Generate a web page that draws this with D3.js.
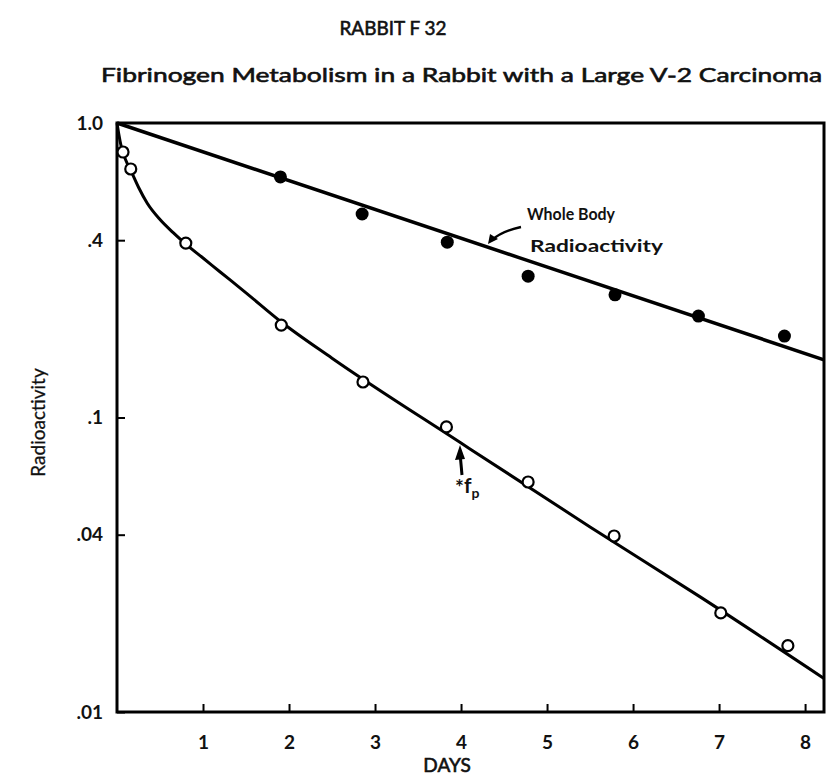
<!DOCTYPE html>
<html>
<head>
<meta charset="utf-8">
<script src="https://cdn.jsdelivr.net/npm/d3@7"></script>
<style>
  body { margin: 0; background: #fff; }
  text { font-family: "Lato", "DejaVu Sans", sans-serif; fill: #111; }
</style>
</head>
<body>
<div id="chart"></div>
<script>
// data
var wholeDays = [1.90, 2.85, 3.84, 4.78, 5.79, 6.76, 7.76];
var wholeValues = [0.656, 0.491, 0.394, 0.302, 0.261, 0.221, 0.189];
var plasmaDays = [0.07, 0.16, 0.80, 1.91, 2.86, 3.83, 4.78, 5.78, 7.02, 7.80];
var plasmaValues = [0.797, 0.698, 0.391, 0.206, 0.132, 0.0929, 0.0604, 0.0396, 0.0217, 0.0168];
// fitted lines as drawn
var wholeLineDays = [0, 8.22];
var wholeLineValues = [1.0, 0.157];
var plasmaCurveDays = [0, 0.02, 0.05, 0.10, 0.16, 0.25, 0.35, 0.50, 0.65, 0.80, 1.00, 1.20, 1.50, 1.91, 2.50, 4.00, 5.50, 6.78, 8.22];
var plasmaCurveValues = [1.0, 0.92, 0.83, 0.75, 0.69, 0.605, 0.535, 0.47, 0.425, 0.388, 0.348, 0.312, 0.265, 0.211, 0.159, 0.0819, 0.0425, 0.0246, 0.0130];
var xTicks = [1, 2, 3, 4, 5, 6, 7, 8];
var yTicks = [1.0, 0.4, 0.1, 0.04, 0.01];
var yTickLabels = ["1.0", ".4", ".1", ".04", ".01"];

var margin = { top: 123, right: 3, bottom: 65, left: 117 },
    width = 827 - margin.left - margin.right,
    height = 777 - margin.top - margin.bottom;

var svg = d3.select("#chart")
    .append("svg")
    .attr("width", 827)
    .attr("height", 777)
    .append("g")
    .attr("transform", "translate(" + margin.left + "," + margin.top + ")");

var x = d3.scaleLinear().domain([0, 8.22]).range([0, width]);
var y = d3.scaleLog().domain([0.01, 1]).range([height, 0]);

// titles (medium weight look: regular + thin stroke)
svg.append("text")
    .attr("x", 276).attr("y", -88)
    .attr("text-anchor", "middle")
    .attr("textLength", 107)
    .attr("lengthAdjust", "spacingAndGlyphs")
    .attr("stroke", "#111").attr("stroke-width", 0.6)
    .style("font-size", "20px")
    .text("RABBIT  F 32");
svg.append("text")
    .attr("x", -16).attr("y", -41)
    .attr("textLength", 721)
    .attr("lengthAdjust", "spacingAndGlyphs")
    .attr("stroke", "#111").attr("stroke-width", 0.6)
    .style("font-size", "20px")
    .text("Fibrinogen  Metabolism  in a  Rabbit  with  a  Large  V-2  Carcinoma");

// frame
svg.append("rect")
    .attr("x", 0).attr("y", 0)
    .attr("width", width).attr("height", height)
    .attr("fill", "none")
    .attr("stroke", "#000")
    .attr("stroke-width", 3);

// x axis
var xAxis = svg.append("g")
    .attr("transform", "translate(0," + height + ")")
    .call(d3.axisBottom(x).tickValues(xTicks).tickSize(-8).tickPadding(24).tickFormat(d3.format("d")));
xAxis.select(".domain").remove();
xAxis.selectAll("line").attr("stroke-width", 2);
xAxis.selectAll("text").style("font-size", "19px").style("font-family", "Lato, sans-serif")
    .style("font-weight", "bold").attr("fill", "#111");

// y axis
var yAxis = svg.append("g")
    .call(d3.axisLeft(y).tickValues(yTicks).tickSize(-8).tickPadding(14)
        .tickFormat(function (d, i) { return yTickLabels[i]; }));
yAxis.select(".domain").remove();
yAxis.selectAll("line").attr("stroke-width", 2);
yAxis.selectAll("text").style("font-size", "19px").style("font-family", "Lato, sans-serif")
    .style("font-weight", "bold").attr("fill", "#111");

// axis labels
svg.append("text")
    .attr("x", x(4) - 14).attr("y", height + 60)
    .attr("text-anchor", "middle")
    .attr("stroke", "#111").attr("stroke-width", 0.6)
    .style("font-size", "19px")
    .text("DAYS");
svg.append("text")
    .attr("transform", "translate(-72," + (height / 2 + 5) + ") rotate(-90)")
    .attr("text-anchor", "middle")
    .attr("stroke", "#111").attr("stroke-width", 0.3)
    .style("font-size", "19px")
    .text("Radioactivity");

var line = d3.line()
    .x(function (d) { return x(d[0]); })
    .y(function (d) { return y(d[1]); });

// whole body line
svg.append("path")
    .datum(d3.zip(wholeLineDays, wholeLineValues))
    .attr("fill", "none").attr("stroke", "#000").attr("stroke-width", 3.5)
    .attr("d", line);

// plasma curve
svg.append("path")
    .datum(d3.zip(plasmaCurveDays, plasmaCurveValues))
    .attr("fill", "none").attr("stroke", "#000").attr("stroke-width", 3)
    .attr("d", line.curve(d3.curveMonotoneX));

// points
svg.selectAll(".whole")
    .data(d3.zip(wholeDays, wholeValues))
    .enter().append("circle")
    .attr("cx", function (d) { return x(d[0]); })
    .attr("cy", function (d) { return y(d[1]); })
    .attr("r", 6.5)
    .attr("fill", "#000");

svg.selectAll(".plasma")
    .data(d3.zip(plasmaDays, plasmaValues))
    .enter().append("circle")
    .attr("cx", function (d) { return x(d[0]); })
    .attr("cy", function (d) { return y(d[1]); })
    .attr("r", 5.5)
    .attr("fill", "#fff")
    .attr("stroke", "#000")
    .attr("stroke-width", 2.2);

// annotations
svg.append("text")
    .attr("x", 410).attr("y", 97)
    .attr("textLength", 88)
    .attr("lengthAdjust", "spacingAndGlyphs")
    .style("font-size", "17px").style("font-weight", "bold")
    .text("Whole Body");
svg.append("text")
    .attr("x", 413).attr("y", 129)
    .attr("textLength", 133)
    .attr("lengthAdjust", "spacingAndGlyphs")
    .style("font-size", "17px").style("font-weight", "bold")
    .text("Radioactivity");
svg.append("path")
    .attr("d", "M404,104 Q385,108 375,117")
    .attr("fill", "none").attr("stroke", "#000").attr("stroke-width", 2.5);
svg.append("path")
    .attr("d", "M371,121 L373,111 L381,116 Z")
    .attr("fill", "#000");

// f_p marker
svg.append("path")
    .attr("d", "M345,352 L343,330")
    .attr("stroke", "#000").attr("stroke-width", 3);
svg.append("path")
    .attr("d", "M343,322 L338,337 L348,336 Z")
    .attr("fill", "#000");
var fp = svg.append("text")
    .attr("x", 338).attr("y", 370)
    .style("font-size", "21px").style("font-weight", "bold");
fp.append("tspan").attr("dy", 2).text("*");
fp.append("tspan").attr("dy", -2).text("f");
fp.append("tspan").attr("dy", 5).style("font-size", "14px").text("p");
</script>
</body>
</html>
